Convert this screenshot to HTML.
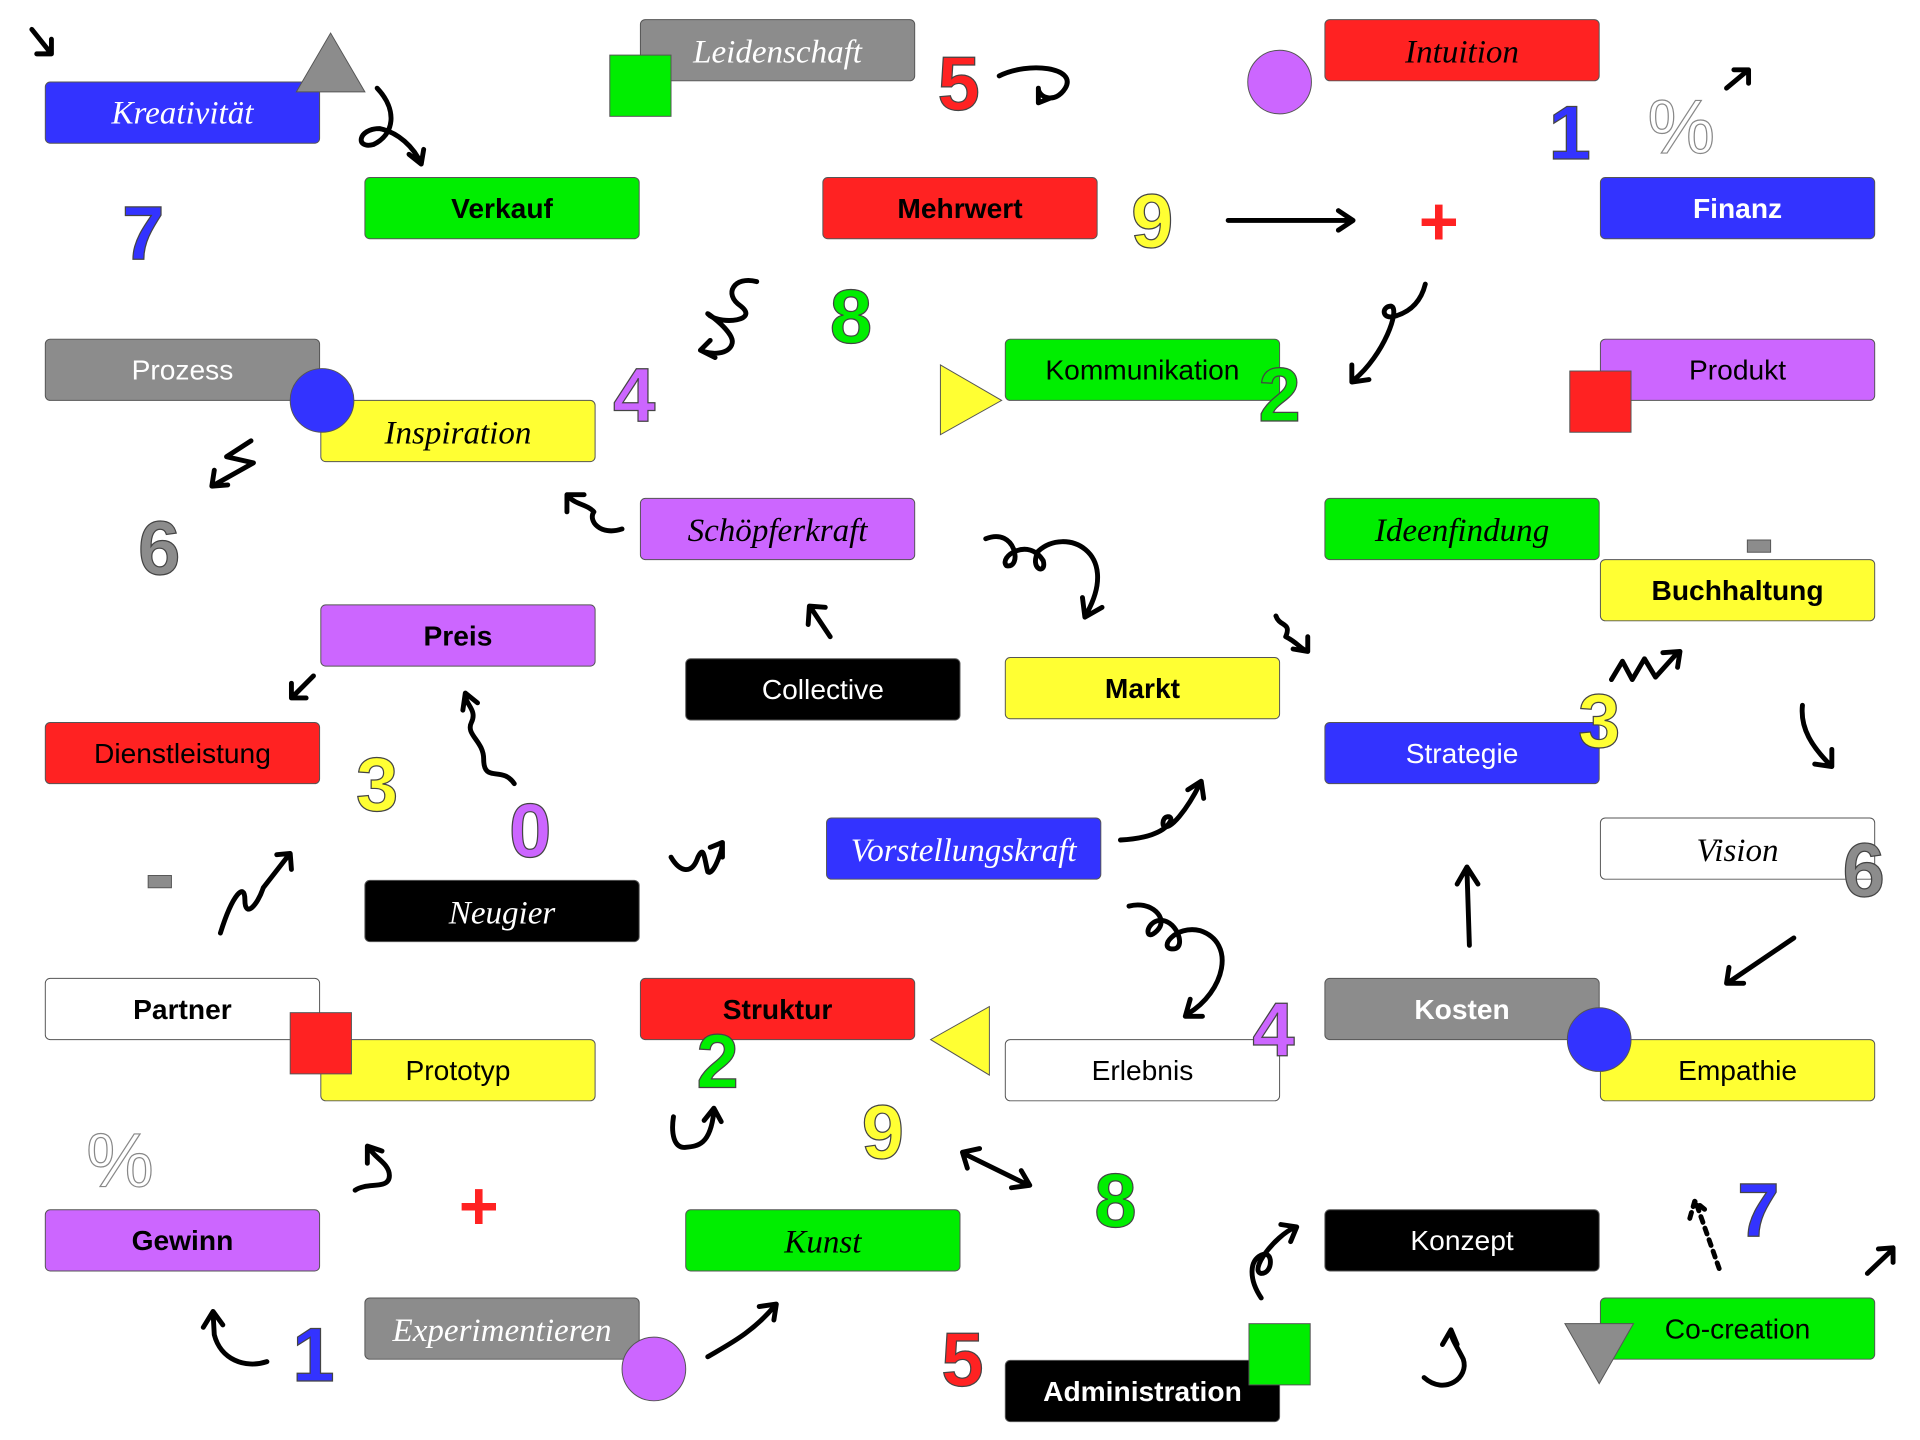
<!DOCTYPE html>
<html><head><meta charset="utf-8"><style>
html,body{margin:0;padding:0;background:#fff;width:1920px;height:1440px;overflow:hidden}
svg text{font-family:"Liberation Sans",sans-serif}
.b{font-size:23px;text-anchor:middle}
.bd{font-weight:bold}
.s{font-family:"Liberation Serif",serif;font-style:italic;font-size:27px}
.n{font-size:62px;font-weight:bold;text-anchor:middle;stroke:#444;stroke-width:1}
.a{fill:none;stroke:#000;stroke-width:4;stroke-linecap:round;stroke-linejoin:round}
</style></head><body>
<svg width="1920" height="1440" viewBox="0 0 1568 1176" xmlns="http://www.w3.org/2000/svg">
<g stroke="#555" stroke-width="0.8">
<rect x="37" y="67" width="224" height="50" rx="4" fill="#3333ff"/>
<rect x="523" y="16" width="224" height="50" rx="4" fill="#8c8c8c"/>
<rect x="1082" y="16" width="224" height="50" rx="4" fill="#ff2222"/>
<rect x="298" y="145" width="224" height="50" rx="4" fill="#00ee00"/>
<rect x="672" y="145" width="224" height="50" rx="4" fill="#ff2222"/>
<rect x="1307" y="145" width="224" height="50" rx="4" fill="#3333ff"/>
<rect x="37" y="277" width="224" height="50" rx="4" fill="#8c8c8c"/>
<rect x="262" y="327" width="224" height="50" rx="4" fill="#ffff33"/>
<rect x="821" y="277" width="224" height="50" rx="4" fill="#00ee00"/>
<rect x="1307" y="277" width="224" height="50" rx="4" fill="#cc66ff"/>
<rect x="523" y="407" width="224" height="50" rx="4" fill="#cc66ff"/>
<rect x="1082" y="407" width="224" height="50" rx="4" fill="#00ee00"/>
<rect x="1307" y="457" width="224" height="50" rx="4" fill="#ffff33"/>
<rect x="262" y="494" width="224" height="50" rx="4" fill="#cc66ff"/>
<rect x="560" y="538" width="224" height="50" rx="4" fill="#000"/>
<rect x="821" y="537" width="224" height="50" rx="4" fill="#ffff33"/>
<rect x="37" y="590" width="224" height="50" rx="4" fill="#ff2222"/>
<rect x="1082" y="590" width="224" height="50" rx="4" fill="#3333ff"/>
<rect x="675" y="668" width="224" height="50" rx="4" fill="#3333ff"/>
<rect x="1307" y="668" width="224" height="50" rx="4" fill="#fff"/>
<rect x="298" y="719" width="224" height="50" rx="4" fill="#000"/>
<rect x="37" y="799" width="224" height="50" rx="4" fill="#fff"/>
<rect x="523" y="799" width="224" height="50" rx="4" fill="#ff2222"/>
<rect x="1082" y="799" width="224" height="50" rx="4" fill="#8c8c8c"/>
<rect x="262" y="849" width="224" height="50" rx="4" fill="#ffff33"/>
<rect x="821" y="849" width="224" height="50" rx="4" fill="#fff"/>
<rect x="1307" y="849" width="224" height="50" rx="4" fill="#ffff33"/>
<rect x="37" y="988" width="224" height="50" rx="4" fill="#cc66ff"/>
<rect x="560" y="988" width="224" height="50" rx="4" fill="#00ee00"/>
<rect x="1082" y="988" width="224" height="50" rx="4" fill="#000"/>
<rect x="298" y="1060" width="224" height="50" rx="4" fill="#8c8c8c"/>
<rect x="1307" y="1060" width="224" height="50" rx="4" fill="#00ee00"/>
<rect x="821" y="1111" width="224" height="50" rx="4" fill="#000"/>
<!-- shapes -->
<polygon points="270,27 298,75 242,75" fill="#8c8c8c"/>
<rect x="498" y="45" width="50" height="50" fill="#00ee00"/>
<circle cx="1045" cy="67" r="26" fill="#cc66ff"/>
<circle cx="263" cy="327" r="26" fill="#3333ff"/>
<polygon points="768,298 818,327 768,355" fill="#ffff33"/>
<rect x="1282" y="303" width="50" height="50" fill="#ff2222"/>
<rect x="237" y="827" width="50" height="50" fill="#ff2222"/>
<polygon points="808,822 760,849 808,878" fill="#ffff33"/>
<circle cx="1306" cy="849" r="26" fill="#3333ff"/>
<circle cx="534" cy="1118" r="26" fill="#cc66ff"/>
<rect x="1020" y="1081" width="50" height="50" fill="#00ee00"/>
<polygon points="1278,1081 1334,1081 1306,1130" fill="#8c8c8c"/>
<rect x="1427" y="441" width="19" height="10" fill="#8c8c8c"/>
<rect x="121" y="715" width="19" height="10" fill="#8c8c8c"/>
</g>
<!-- labels -->
<g class="b">
<text x="149" y="101" class="s" text-anchor="middle" fill="#fff">Kreativität</text>
<text x="635" y="51" class="s" text-anchor="middle" fill="#fff">Leidenschaft</text>
<text x="1194" y="51" class="s" text-anchor="middle" fill="#000">Intuition</text>
<text x="410" y="178" class="bd">Verkauf</text>
<text x="784" y="178" class="bd">Mehrwert</text>
<text x="1419" y="178" class="bd" fill="#fff">Finanz</text>
<text x="149" y="310" fill="#fff">Prozess</text>
<text x="374" y="362" class="s" text-anchor="middle">Inspiration</text>
<text x="933" y="310">Kommunikation</text>
<text x="1419" y="310">Produkt</text>
<text x="635" y="442" class="s" text-anchor="middle">Schöpferkraft</text>
<text x="1194" y="442" class="s" text-anchor="middle">Ideenfindung</text>
<text x="1419" y="490" class="bd">Buchhaltung</text>
<text x="374" y="527" class="bd">Preis</text>
<text x="672" y="571" fill="#fff">Collective</text>
<text x="933" y="570" class="bd">Markt</text>
<text x="149" y="623">Dienstleistung</text>
<text x="1194" y="623" fill="#fff">Strategie</text>
<text x="787" y="703" class="s" text-anchor="middle" fill="#fff">Vorstellungskraft</text>
<text x="1419" y="703" class="s" text-anchor="middle">Vision</text>
<text x="410" y="754" class="s" text-anchor="middle" fill="#fff">Neugier</text>
<text x="149" y="832" class="bd">Partner</text>
<text x="635" y="832" class="bd">Struktur</text>
<text x="1194" y="832" class="bd" fill="#fff">Kosten</text>
<text x="374" y="882">Prototyp</text>
<text x="933" y="882">Erlebnis</text>
<text x="1419" y="882">Empathie</text>
<text x="149" y="1021" class="bd">Gewinn</text>
<text x="672" y="1023" class="s" text-anchor="middle">Kunst</text>
<text x="1194" y="1021" fill="#fff">Konzept</text>
<text x="410" y="1095" class="s" text-anchor="middle" fill="#fff">Experimentieren</text>
<text x="1419" y="1093">Co-creation</text>
<text x="933" y="1144" class="bd" fill="#fff">Administration</text>
</g>
<!-- numbers -->
<g class="n">
<text x="117" y="212" fill="#3333ff">7</text>
<text x="783" y="90" fill="#ff2222">5</text>
<text x="1282" y="130" fill="#3333ff">1</text>
<text x="941" y="202" fill="#ffff33">9</text>
<text x="695" y="280" fill="#00ee00">8</text>
<text x="518" y="344" fill="#cc66ff">4</text>
<text x="1045" y="344" fill="#00ee00">2</text>
<text x="130" y="469" fill="#8c8c8c">6</text>
<text x="1306" y="610" fill="#ffff33">3</text>
<text x="308" y="662" fill="#ffff33">3</text>
<text x="433" y="700" fill="#cc66ff">0</text>
<text x="1522" y="732" fill="#8c8c8c">6</text>
<text x="1040" y="862" fill="#cc66ff">4</text>
<text x="586" y="888" fill="#00ee00">2</text>
<text x="721" y="946" fill="#ffff33">9</text>
<text x="911" y="1002" fill="#00ee00">8</text>
<text x="1436" y="1010" fill="#3333ff">7</text>
<text x="256" y="1128" fill="#3333ff">1</text>
<text x="786" y="1132" fill="#ff2222">5</text>
<text x="1373" y="125" fill="#fff" stroke="#888" font-weight="normal">%</text>
<text x="98" y="969" fill="#fff" stroke="#888" font-weight="normal">%</text>
<text x="1175" y="200" fill="#ff2222" stroke="none" font-size="56">+</text>
<text x="391" y="1004" fill="#ff2222" stroke="none" font-size="56">+</text>
</g>
<!-- arrows -->
<g class="a">
<path d="M26,24 L42,44 M30,44 L42,44 L42,32"/>
<path d="M308,72 C325,90 322,110 305,118 C290,122 292,105 310,105 C325,108 338,120 344,134 M334,126 L344,134 L346,122"/>
<path d="M816,62 C840,50 880,55 870,72 C862,85 848,80 848,72 M848,72 L848,84 L858,80"/>
<path d="M1003,180 L1103,180 M1093,172 L1105,180 L1093,188"/>
<path d="M1410,72 L1428,57 M1416,57 L1428,57 L1428,68"/>
<path d="M618,230 C600,225 590,240 605,250 C620,262 590,265 580,258 C570,250 600,270 598,280 C596,290 580,290 572,286 M572,286 L580,278 M572,286 L584,292"/>
<path d="M1164,232 C1160,248 1150,255 1140,258 C1128,262 1128,250 1136,250 C1144,252 1130,290 1106,310 M1104,298 L1104,312 L1118,310"/>
<path d="M205,360 L185,373 L207,378 L175,396 M175,384 L173,397 L186,396"/>
<path d="M508,432 C490,438 480,425 485,418 C480,412 470,412 465,406 M463,418 L463,404 L477,404"/>
<path d="M805,440 C830,430 835,465 822,462 C815,455 840,438 852,458 C855,470 840,465 848,450 C870,430 915,450 888,500 M884,488 L886,504 L900,496"/>
<path d="M1042,503 C1045,512 1055,508 1050,520 C1060,525 1062,530 1068,532 M1056,530 L1068,532 L1068,520"/>
<path d="M678,520 L662,496 M660,510 L661,495 L674,496"/>
<path d="M256,552 L238,570 M238,558 L238,570 L250,570"/>
<path d="M420,640 C410,625 395,640 395,620 C395,605 380,600 385,590 C390,580 380,575 380,568 M378,580 L380,566 L390,574"/>
<path d="M1316,555 L1325,540 L1333,555 L1343,538 L1352,553 L1370,533 M1358,533 L1372,532 L1370,545"/>
<path d="M1472,576 C1470,595 1480,610 1495,625 M1482,624 L1496,626 L1496,612"/>
<path d="M915,686 C935,685 950,680 955,672 C960,665 948,665 950,674 C955,680 970,660 980,640 M970,645 L981,638 L983,652"/>
<path d="M180,762 C190,730 200,720 200,735 C200,750 210,740 215,725 L236,698 M226,698 L237,697 L238,710"/>
<path d="M548,700 C555,712 565,715 570,700 C575,690 575,700 578,712 C582,715 588,700 590,690 M580,692 L590,688 L590,700"/>
<path d="M922,740 C940,735 955,750 945,760 C935,770 935,755 945,752 C960,748 970,775 958,775 C945,775 960,755 980,760 C1010,770 1000,810 970,828 M972,816 L968,830 L982,830"/>
<path d="M1200,772 L1198,710 M1190,722 L1198,708 L1207,722"/>
<path d="M1465,766 L1412,802 M1412,790 L1410,803 L1424,803"/>
<path d="M550,912 C548,925 550,938 560,937 C570,936 580,935 583,908 M575,915 L583,905 L589,916"/>
<path d="M290,972 C300,965 318,972 318,960 C318,950 305,945 302,938 M300,950 L300,936 L312,940"/>
<path d="M787,942 L840,968 M790,954 L786,941 L800,938 M826,970 L841,968 L834,956"/>
<path d="M1030,1060 C1020,1045 1020,1030 1030,1025 C1040,1020 1040,1040 1030,1040 C1020,1038 1040,1010 1058,1002 M1046,1000 L1059,1002 L1054,1014"/>
<path d="M1404,1036 L1385,982 M1380,995 L1384,981 L1395,990" stroke-dasharray="5 5"/>
<path d="M1525,1040 L1546,1020 M1534,1020 L1546,1019 L1546,1031"/>
<path d="M218,1112 C200,1118 180,1110 175,1090 L174,1072 M166,1084 L174,1071 L182,1082"/>
<path d="M578,1108 C595,1098 615,1088 633,1066 M620,1067 L634,1065 L632,1078"/>
<path d="M1163,1125 C1180,1140 1200,1125 1195,1110 C1190,1100 1185,1093 1185,1088 M1178,1098 L1185,1086 L1190,1098"/>
</g>
</svg>
</body></html>
